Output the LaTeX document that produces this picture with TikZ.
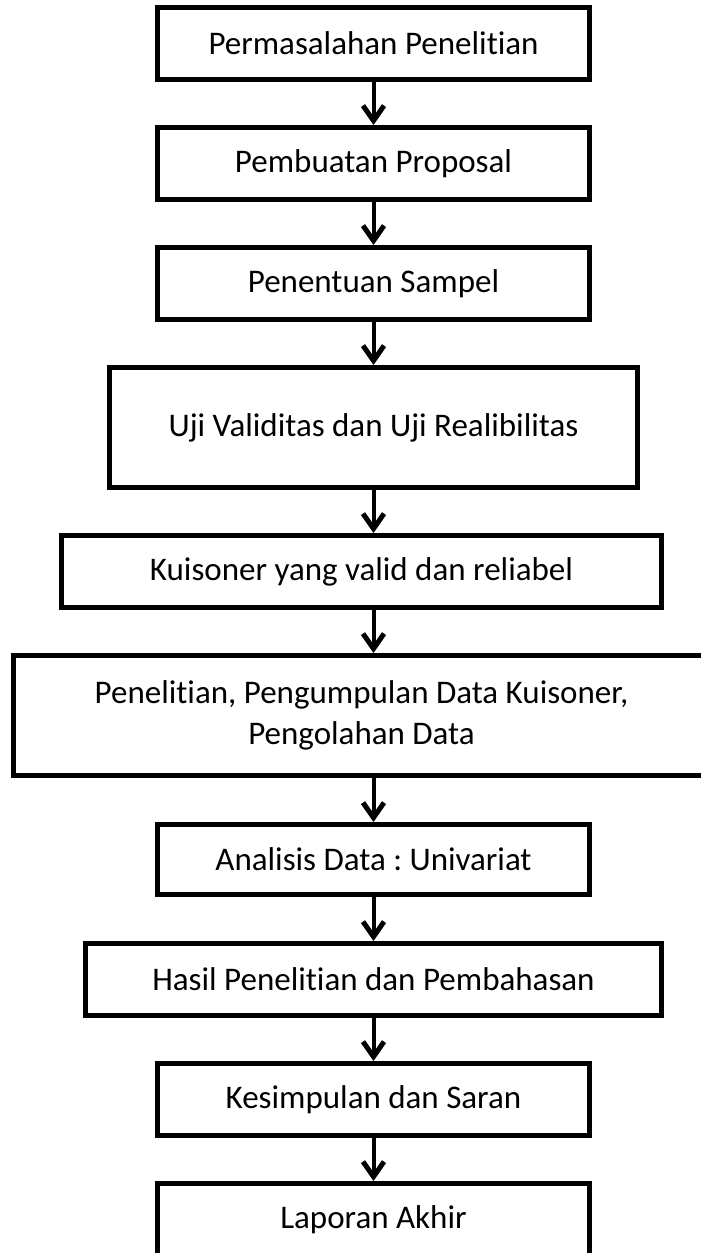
\documentclass[tikz,border=0pt]{standalone}
\usepackage{fontspec}
\setmainfont{Carlito}[Ligatures={NoCommon}]
\frenchspacing
\usetikzlibrary{arrows.meta,calc}
\begin{document}
\begin{tikzpicture}[x=1pt,y=-1pt,
  box/.style={draw=black, line width=5pt, rectangle, inner sep=0pt, align=center,
              font=\fontsize{33}{41}\selectfont, fill=white},
  flow/.style={line width=4pt, -{Straight Barb[length=15pt,width=21pt,line width=5pt]}}]
\clip (0,0) rectangle (701,1253);
\fill[white] (0,0) rectangle (701,1253);
\node[box, minimum width=432pt, minimum height=72pt] (b1) at (373.5,43.5) {Permasalahan Penelitian};
\node[box, minimum width=432pt, minimum height=72pt] (b2) at (373.5,163.5) {Pembuatan Proposal};
\node[box, minimum width=432pt, minimum height=72pt] (b3) at (373.5,283.5) {Penentuan Sampel};
\node[box, minimum width=528pt, minimum height=120pt] (b4) at (373.5,427.5) {Uji Validitas dan Uji Realibilitas};
\node[box, minimum width=600pt, minimum height=72pt] (b5) at (361.5,571.5) {Kuisoner yang valid dan reliabel};
\node[box, minimum width=696pt, minimum height=120pt] (b6) at (361.5,715.5) {Penelitian, Pengumpulan Data Kuisoner,\\Pengolahan Data};
\node[box, minimum width=432pt, minimum height=70pt] (b7) at (373.5,859.5) {Analisis Data : Univariat};
\node[box, minimum width=576pt, minimum height=72pt] (b8) at (373.5,979.5) {Hasil Penelitian dan Pembahasan};
\node[box, minimum width=432pt, minimum height=72pt] (b9) at (373.5,1099.5) {Kesimpulan dan Saran};
\node[box, minimum width=432pt, minimum height=73pt] (b10) at (373.5,1220) {Laporan Akhir};
\draw[flow] (b1.south) -- (b2.north);
\draw[flow] (b2.south) -- (b3.north);
\draw[flow] (b3.south) -- (b4.north);
\draw[flow] (b4.south) -- (b4.south |- b5.north);
\draw[flow] (b5.south -| b4.south) -- (b6.north -| b4.south);
\draw[flow] (b6.south -| b7.north) -- (b7.north);
\draw[flow] (b7.south) -- (b8.north);
\draw[flow] (b8.south) -- (b9.north);
\draw[flow] (b9.south) -- (b10.north);
\end{tikzpicture}
\end{document}
